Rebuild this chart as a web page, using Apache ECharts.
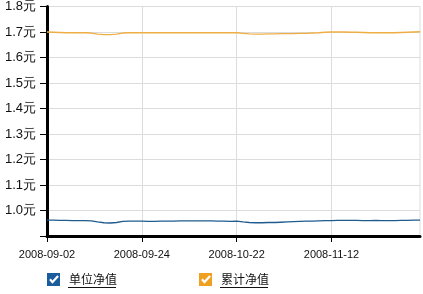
<!DOCTYPE html>
<html><head><meta charset="utf-8">
<script src="https://cdn.jsdelivr.net/npm/echarts@6/dist/echarts.min.js"></script>
<style>html,body{margin:0;padding:0;background:#fff}#c{width:423px;height:294px}</style>
</head><body><div id="c"></div>
<script>
const dates = [
 '2008-09-02','2008-09-03','2008-09-04','2008-09-05','2008-09-08','2008-09-09','2008-09-10','2008-09-11','2008-09-12','2008-09-16',
 '2008-09-17','2008-09-18','2008-09-19','2008-09-22','2008-09-23','2008-09-24','2008-09-25','2008-09-26','2008-09-27','2008-09-28',
 '2008-10-08','2008-10-09','2008-10-10','2008-10-13','2008-10-14','2008-10-15','2008-10-16','2008-10-17','2008-10-20','2008-10-21',
 '2008-10-22','2008-10-23','2008-10-24','2008-10-27','2008-10-28','2008-10-29','2008-10-30','2008-10-31','2008-11-03','2008-11-04',
 '2008-11-05','2008-11-06','2008-11-07','2008-11-10','2008-11-11','2008-11-12','2008-11-13','2008-11-14','2008-11-17','2008-11-18',
 '2008-11-19','2008-11-20','2008-11-21','2008-11-24','2008-11-25','2008-11-26','2008-11-27','2008-11-28','2008-12-01','2008-12-02'
];
const unitNav = [
 0.962,0.962,0.961,0.961,0.960,0.960,0.960,0.959,0.955,0.952,
 0.951,0.953,0.957,0.958,0.958,0.958,0.957,0.957,0.958,0.958,
 0.958,0.959,0.959,0.959,0.959,0.959,0.959,0.958,0.958,0.957,
 0.958,0.955,0.953,0.952,0.952,0.953,0.953,0.954,0.955,0.956,
 0.957,0.958,0.958,0.959,0.960,0.960,0.961,0.961,0.961,0.961,
 0.960,0.960,0.961,0.960,0.960,0.960,0.961,0.961,0.962,0.962
];
const accNav = [
 1.700,1.699,1.698,1.697,1.697,1.697,1.697,1.696,1.692,1.690,
 1.690,1.692,1.696,1.697,1.697,1.697,1.697,1.697,1.697,1.697,
 1.697,1.697,1.697,1.697,1.697,1.697,1.697,1.697,1.697,1.697,
 1.697,1.695,1.693,1.692,1.692,1.693,1.693,1.694,1.694,1.694,
 1.695,1.695,1.696,1.697,1.699,1.700,1.700,1.700,1.699,1.699,
 1.698,1.697,1.697,1.697,1.697,1.697,1.698,1.699,1.700,1.701
];
const seriesNames = ['单位净值','累计净值'];
const colors = ['#1f5b8e','#efae45'];
const legendColors = ['#1a5c9c','#f0a020'];
const checkIcon = 'path://M0,0L12,0L12,12L0,12Z M5,10L11,3.5L9.5,2L5,7L3.5,5L2,6.5Z';

const chart = echarts.init(document.getElementById('c'), null, {renderer:'canvas'});
const legendText = {color:'#111',fontSize:12,fontFamily:'Noto Sans CJK SC',padding:[0,0,0,4]};
chart.setOption({
  animation:false,
  grid:{left:47,right:3,top:5,bottom:58,show:true,borderColor:'#dcdcdc',borderWidth:1},
  legend:[
    {data:[{name:seriesNames[0],itemStyle:{color:legendColors[0]}}],left:42,top:268,icon:checkIcon,itemWidth:13,itemHeight:13,
     textStyle:legendText,selectedMode:false},
    {data:[{name:seriesNames[1],itemStyle:{color:legendColors[1]}}],left:194,top:268,icon:checkIcon,itemWidth:13,itemHeight:13,
     textStyle:legendText,selectedMode:false}
  ],
  xAxis:{type:'category',data:dates,boundaryGap:false,
    axisLine:{lineStyle:{color:'#000',width:3}},
    axisTick:{show:true,interval:14,length:6,lineStyle:{color:'#000',width:1}},
    axisLabel:{interval:14,color:'#111',fontSize:11,fontFamily:'Liberation Sans',margin:13,hideOverlap:false},
    splitLine:{show:true,interval:14,lineStyle:{color:'#dcdcdc',width:1}}},
  yAxis:{type:'value',min:0.9,max:1.8,interval:0.1,
    axisLine:{show:true,lineStyle:{color:'#000',width:3}},
    axisTick:{show:true,length:7,lineStyle:{color:'#000',width:1}},
    axisLabel:{color:'#111',fontSize:13,fontFamily:'Liberation Sans',margin:11,
      formatter:function(v){ if (Math.abs(v-0.9)<1e-6) return ''; return v.toFixed(1)+'元'; }},
    splitLine:{show:true,lineStyle:{color:'#dcdcdc',width:1}}},
  series:[
    {name:seriesNames[0],type:'line',data:unitNav,showSymbol:false,symbol:'none',lineStyle:{color:colors[0],width:1.3},itemStyle:{color:colors[0]}},
    {name:seriesNames[1],type:'line',data:accNav,showSymbol:false,symbol:'none',lineStyle:{color:colors[1],width:1.3},itemStyle:{color:colors[1]}}
  ],
  graphic:[
    {type:'line',shape:{x1:68,y1:287.5,x2:116,y2:287.5},style:{stroke:'#111',lineWidth:1}},
    {type:'line',shape:{x1:220,y1:287.5,x2:268,y2:287.5},style:{stroke:'#111',lineWidth:1}}
  ]
});
</script></body></html>
